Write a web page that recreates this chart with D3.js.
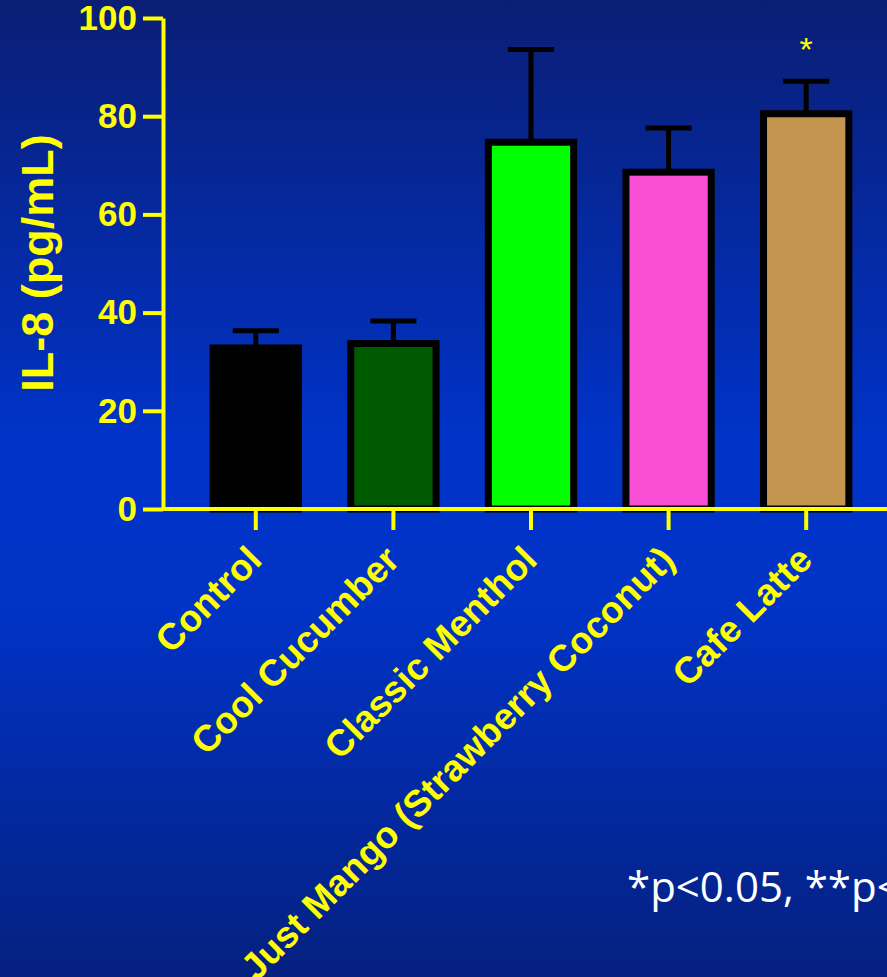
<!DOCTYPE html>
<html lang="en">
<head>
<meta charset="UTF-8">
<title>IL-8 by flavour</title>
<script src="https://d3js.org/d3.v7.min.js"></script>
<style>
  body { margin: 0; background: #0033c8; }
  svg { display: block; }
  .axis text { fill: #ffff00; font-family: "Liberation Sans", Arial, sans-serif; font-weight: bold; font-size: 35px; }
  .axis line, .axis path { stroke: #ffff00; stroke-width: 4; }
</style>
</head>
<body>
<script>
// data
var categories = ["Control", "Cool Cucumber", "Classic Menthol", "Just Mango (Strawberry Coconut)", "Cafe Latte"];
var means = [32.8, 33.7, 74.7, 68.6, 80.5];
var sems = [3.5, 4.6, 18.9, 9.0, 6.6];
var barColors = ["#000000", "#005a00", "#00ff00", "#f84fd4", "#c4954f"];
var marks = ["", "", "", "", "*"];
var yTicks = [0, 20, 40, 60, 80, 100];

var width = 887, height = 977;
var svg = d3.select("body").append("svg")
    .attr("width", width)
    .attr("height", height);

// slide-like background
var grad = svg.append("defs").append("linearGradient")
    .attr("id", "bg").attr("x1", 0).attr("y1", 0).attr("x2", 0).attr("y2", 1);
grad.append("stop").attr("offset", "0%").attr("stop-color", "#0a1e74");
grad.append("stop").attr("offset", "45%").attr("stop-color", "#0033c8");
grad.append("stop").attr("offset", "62%").attr("stop-color", "#0033c6");
grad.append("stop").attr("offset", "100%").attr("stop-color", "#05207f");
svg.append("rect").attr("width", width).attr("height", height).attr("fill", "url(#bg)");

var y = d3.scaleLinear().domain([0, 100]).range([509, 18]);
var x = d3.scaleBand().domain(categories).range([187, 875])
    .paddingInner(0.38).paddingOuter(0.19);
var axisX = 163;

var rows = categories.map(function(c, i) {
    return { name: c, mean: means[i], sem: sems[i], color: barColors[i], mark: marks[i] };
});

// bars
svg.selectAll("rect.bar")
    .data(rows)
    .enter().append("rect")
    .attr("class", "bar")
    .attr("x", function(d) { return x(d.name); })
    .attr("y", function(d) { return y(d.mean); })
    .attr("width", x.bandwidth())
    .attr("height", function(d) { return y(0) - y(d.mean); })
    .attr("fill", function(d) { return d.color; })
    .attr("stroke", "#000")
    .attr("stroke-width", 7);

// error bars (upper only)
var cx = function(d) { return x(d.name) + x.bandwidth() / 2; };
var capHalf = x.bandwidth() * 0.27;
svg.selectAll("line.err")
    .data(rows)
    .enter().append("line")
    .attr("class", "err")
    .attr("x1", cx).attr("x2", cx)
    .attr("y1", function(d) { return y(d.mean); })
    .attr("y2", function(d) { return y(d.mean + d.sem); })
    .attr("stroke", "#000").attr("stroke-width", 5);
svg.selectAll("line.cap")
    .data(rows)
    .enter().append("line")
    .attr("class", "cap")
    .attr("x1", function(d) { return cx(d) - capHalf; })
    .attr("x2", function(d) { return cx(d) + capHalf; })
    .attr("y1", function(d) { return y(d.mean + d.sem); })
    .attr("y2", function(d) { return y(d.mean + d.sem); })
    .attr("stroke", "#000").attr("stroke-width", 5);

// significance stars
svg.selectAll("text.sig")
    .data(rows.filter(function(d) { return d.mark; }))
    .enter().append("text")
    .attr("class", "sig")
    .attr("x", cx)
    .attr("y", function(d) { return y(d.mean + d.sem) - 20; })
    .attr("text-anchor", "middle")
    .attr("fill", "#ffff00")
    .style("font-family", "Liberation Sans, Arial, sans-serif")
    .style("font-size", "34px")
    .text(function(d) { return d.mark; });

// y axis
svg.append("g")
    .attr("class", "axis")
    .attr("transform", "translate(" + axisX + ",0)")
    .call(d3.axisLeft(y).tickValues(yTicks).tickSize(20).tickSizeOuter(0).tickPadding(6));

// x axis
var gx = svg.append("g")
    .attr("class", "axis")
    .attr("transform", "translate(0," + y(0) + ")")
    .call(d3.axisBottom(x).tickSize(21).tickSizeOuter(0));
gx.select(".domain").remove();
gx.append("line")
    .attr("x1", axisX).attr("x2", width)
    .attr("stroke", "#ffff00").attr("stroke-width", 4);
gx.selectAll(".tick text")
    .attr("y", 0).attr("dy", 0)
    .attr("text-anchor", "end")
    .style("font-size", "37px")
    .attr("transform", "translate(8,53) rotate(-45)");

// y axis title
svg.append("text")
    .attr("transform", "translate(53,263) rotate(-90)")
    .attr("text-anchor", "middle")
    .attr("fill", "#ffff00")
    .style("font-family", "Liberation Sans, Arial, sans-serif")
    .style("font-weight", "bold")
    .style("font-size", "45px")
    .text("IL-8 (pg/mL)");

// footnote (runs off the right edge as in the slide)
svg.append("text")
    .attr("x", 627).attr("y", 902)
    .attr("fill", "#ffffff")
    .style("font-family", "Open Sans, Noto Sans, sans-serif")
    .style("font-size", "42px")
    .text("*p<0.05, **p<0.01");
</script>
</body>
</html>
